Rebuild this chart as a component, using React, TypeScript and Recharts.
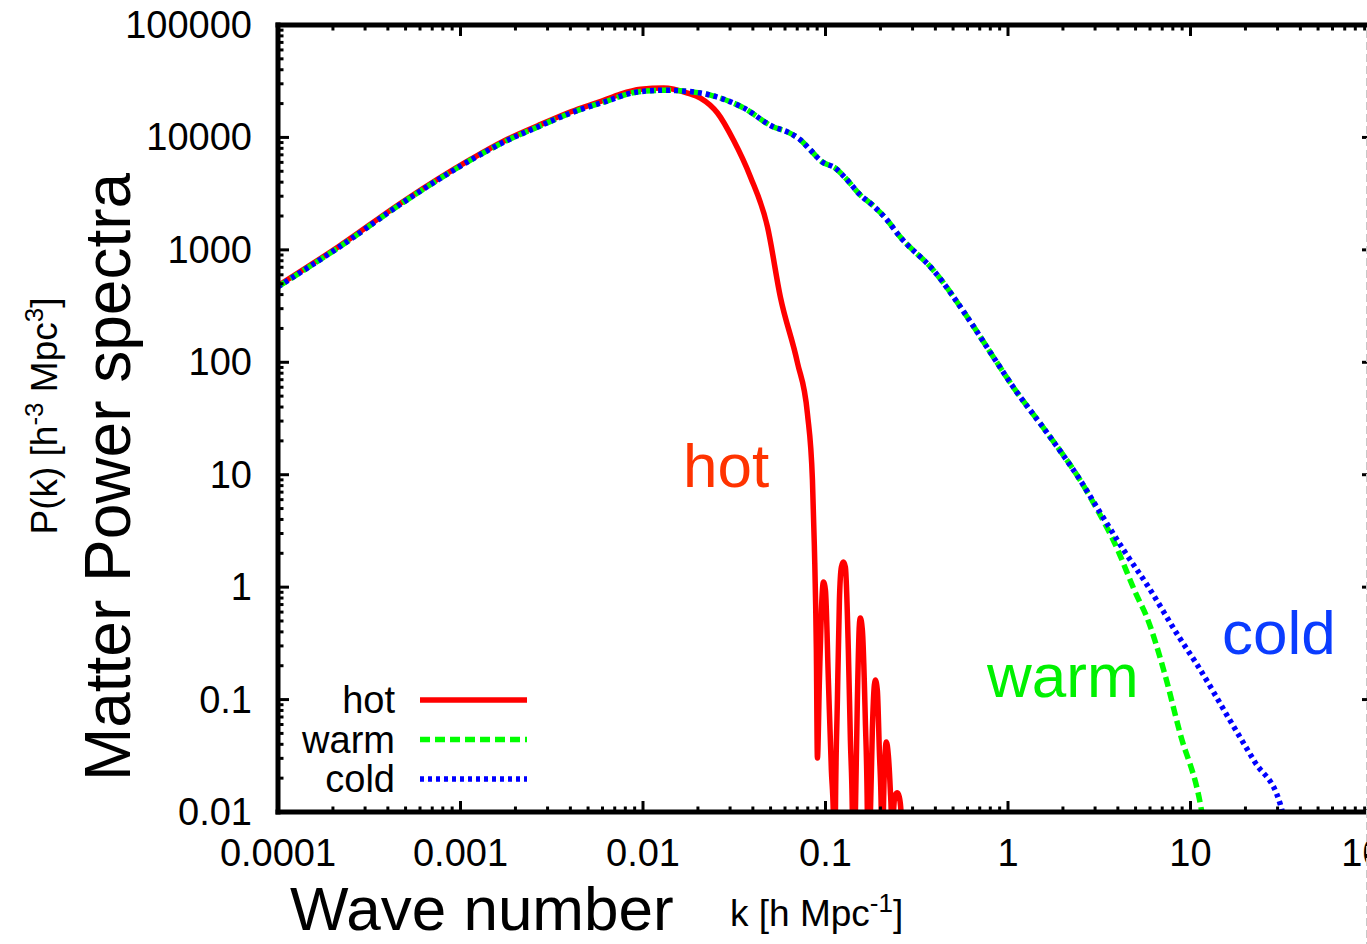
import { LineChart, Line, XAxis, YAxis } from 'recharts';

const FONT = '"Liberation Sans", Arial, Helvetica, sans-serif';

// k [h Mpc^-1] and P(k) [h^-3 Mpc^3]
const hotK = [
  0.0001, 0.000213, 0.00049, 0.00114, 0.00173, 0.00265, 0.00402, 0.00609, 0.00753, 0.0097,
  0.01297, 0.01755, 0.02065, 0.0256, 0.0313, 0.0388, 0.0481, 0.0566, 0.0702, 0.0796,
  0.0848, 0.0869, 0.0891, 0.0903,
  0.0926, 0.095, 0.0974, 0.0999, 0.1037, 0.1077, 0.1105, 0.1119,
  0.1133, 0.1162, 0.1192, 0.1222, 0.1253, 0.1285, 0.1334, 0.1369, 0.1404, 0.1421,
  0.1457, 0.1495, 0.1533, 0.1552, 0.1592, 0.1653, 0.1696, 0.1717,
  0.1761, 0.1806, 0.1852, 0.1875, 0.1923, 0.1972, 0.2023, 0.2048,
  0.2074, 0.2127, 0.2154, 0.2209, 0.2265, 0.2294, 0.2323,
  0.2352, 0.2413, 0.2474, 0.2537, 0.2602, 0.2669,
];
const hotP = [
  480, 1060, 2720, 6400, 9300, 12700, 16900, 21400, 24300, 26800,
  27500, 24800, 22400, 16500, 9480, 4450, 1600, 380, 99, 35,
  9, 2.3, 0.276, 0.0302,
  0.149, 0.626, 1.11, 0.943, 0.149, 0.0236, 0.0092, 0.0005,
  0.0092, 0.099, 0.769, 1.51, 1.67, 1.51, 0.276, 0.0437, 0.0092, 0.0005,
  0.0092, 0.099, 0.461, 0.532, 0.416, 0.0658, 0.0092, 0.0005,
  0.0092, 0.0536, 0.135, 0.149, 0.1217, 0.0356, 0.0092, 0.0005,
  0.0092, 0.0356, 0.042, 0.0321, 0.0157, 0.0092, 0.0005,
  0.0092, 0.0142, 0.0148, 0.0136, 0.0092, 0.0005,
];

const warmK = [
  0.0001, 0.000213, 0.00049, 0.00114, 0.00173, 0.00265, 0.00402, 0.00609, 0.00933, 0.0133,
  0.016, 0.0234, 0.0356, 0.0519, 0.0618, 0.0729, 0.0827, 0.0961, 0.113, 0.1285,
  0.155, 0.181, 0.213, 0.257, 0.39, 0.598, 0.799, 1.07, 1.64, 2.48,
  3.2, 3.77, 5.08, 5.75, 7.25, 8.77, 11.3, 12.0,
];
const warmP = [
  470, 1040, 2670, 6300, 9100, 12400, 16500, 20600, 25400, 26300,
  26000, 23800, 18300, 12400, 11200, 9500, 7730, 6040, 5350, 4360,
  3080, 2500, 1920, 1300, 660, 253, 123, 60, 23.5, 9.0,
  4.38, 2.63, 0.84, 0.546, 0.166, 0.05, 0.012, 0.0069,
];

const coldK = [
  0.0001, 0.000213, 0.00049, 0.00114, 0.00173, 0.00265, 0.00402, 0.00609, 0.00933, 0.0133,
  0.016, 0.0234, 0.0356, 0.0519, 0.0618, 0.0729, 0.0827, 0.0961, 0.113, 0.1285,
  0.155, 0.181, 0.213, 0.257, 0.39, 0.598, 0.799, 1.07, 1.64, 2.48,
  3.2, 4.3, 5.8, 8.65, 10.9, 16.4, 22.5, 30.9, 34,
];
const coldP = [
  470, 1040, 2670, 6300, 9100, 12400, 16500, 20600, 25400, 26300,
  26000, 23800, 18300, 12400, 11200, 9500, 7730, 6040, 5350, 4360,
  3080, 2500, 1920, 1300, 660, 253, 123, 60, 23.5, 9.0,
  4.6, 2.14, 1.04, 0.36, 0.203, 0.066, 0.0279, 0.012, 0.0065,
];

const K_MAJOR = [0.0001, 0.001, 0.01, 0.1, 1, 10, 100];
const K_LABELS = ['0.0001', '0.001', '0.01', '0.1', '1', '10', '100'];
const P_MAJOR = [0.01, 0.1, 1, 10, 100, 1000, 10000, 100000];
const P_LABELS = ['0.01', '0.1', '1', '10', '100', '1000', '10000', '100000'];
const MINOR_STEPS = [2, 3, 4, 5, 6, 7, 8, 9];

const SERIES = [
  { name: 'hot', color: '#ff0000', dash: undefined as string | undefined, k: hotK, p: hotP },
  { name: 'warm', color: '#00ff00', dash: '10 5', k: warmK, p: warmP },
  { name: 'cold', color: '#0000ff', dash: '4 4', k: coldK, p: coldP },
];

const withMinors = (majors: number[]) =>
  majors.flatMap((m, i) => (i < majors.length - 1 ? [m, ...MINOR_STEPS.map((s) => m * s)] : [m]));

const K_TICKS = withMinors(K_MAJOR);
const P_TICKS = withMinors(P_MAJOR);

const majorIndex = (majors: number[], v: number) =>
  majors.findIndex((m) => Math.abs(Math.log10(m) - Math.log10(v)) < 1e-6);

type Side = 'bottom' | 'top' | 'left' | 'right';

function renderTick(props: any, side: Side) {
  const { x, y, payload } = props;
  const horizontal = side === 'bottom' || side === 'top';
  const majors = horizontal ? K_MAJOR : P_MAJOR;
  const labels = horizontal ? K_LABELS : P_LABELS;
  const idx = majorIndex(majors, payload.value);
  const len = idx >= 0 ? 11 : 5.5;
  let x2 = x;
  let y2 = y;
  if (side === 'bottom') y2 = y - len;
  if (side === 'top') y2 = y + len;
  if (side === 'left') x2 = x + len;
  if (side === 'right') x2 = x - len;
  return (
    <g>
      <line x1={x} y1={y} x2={x2} y2={y2} stroke="#000" strokeWidth={3} />
      {idx >= 0 && side === 'bottom' && (
        <text x={x} y={y + 54} textAnchor="middle" fontSize={38} fontFamily={FONT} fill="#000">
          {labels[idx]}
        </text>
      )}
      {idx >= 0 && side === 'left' && (
        <text x={x - 26} y={y + 13} textAnchor="end" fontSize={38} fontFamily={FONT} fill="#000">
          {labels[idx]}
        </text>
      )}
    </g>
  );
}

const AXIS_LINE = { stroke: '#000', strokeWidth: 5, strokeLinecap: 'square' as const };

export default function App() {
  return (
    <div
      style={{
        position: 'fixed',
        left: 0,
        top: 0,
        width: 1367,
        height: 944,
        overflow: 'hidden',
        background: '#fff',
      }}
    >
      <LineChart width={1433} height={944} margin={{ top: 15, right: 0, bottom: 102, left: 218 }}>
        <XAxis
          dataKey="k"
          type="number"
          scale="log"
          domain={[0.0001, 100]}
          allowDataOverflow
          ticks={K_TICKS}
          interval={0}
          tickSize={0}
          tickMargin={0}
          tickLine={false}
          axisLine={AXIS_LINE}
          height={30}
          tick={(p: any) => renderTick(p, 'bottom')}
        />
        <XAxis
          xAxisId="top"
          orientation="top"
          dataKey="k"
          type="number"
          scale="log"
          domain={[0.0001, 100]}
          allowDataOverflow
          ticks={K_TICKS}
          interval={0}
          tickSize={0}
          tickMargin={0}
          tickLine={false}
          axisLine={AXIS_LINE}
          height={10}
          tick={(p: any) => renderTick(p, 'top')}
        />
        <YAxis
          type="number"
          scale="log"
          domain={[0.01, 100000]}
          allowDataOverflow
          ticks={P_TICKS}
          interval={0}
          tickSize={0}
          tickMargin={0}
          tickLine={false}
          axisLine={AXIS_LINE}
          width={60}
          tick={(p: any) => renderTick(p, 'left')}
        />
        <YAxis
          yAxisId="right"
          orientation="right"
          type="number"
          scale="log"
          domain={[0.01, 100000]}
          allowDataOverflow
          ticks={P_TICKS}
          interval={0}
          tickSize={0}
          tickMargin={0}
          tickLine={false}
          axisLine={AXIS_LINE}
          width={60}
          tick={(p: any) => renderTick(p, 'right')}
        />
        {SERIES.map((s) => (
          <Line
            key={s.name}
            name={s.name}
            data={s.k.map((k, i) => ({ k, p: s.p[i] }))}
            dataKey="p"
            type="monotone"
            stroke={s.color}
            strokeWidth={5.5}
            strokeDasharray={s.dash}
            dot={false}
            activeDot={false}
            isAnimationActive={false}
          />
        ))}
      </LineChart>

      <svg
        width={1367}
        height={944}
        style={{ position: 'absolute', left: 0, top: 0, pointerEvents: 'none' }}
        fontFamily={FONT}
      >
        {/* axis titles */}
        <text transform="translate(130,477) rotate(-90)" textAnchor="middle" fontSize={64}>
          Matter Power spectra
        </text>
        <text transform="translate(57,416) rotate(-90)" textAnchor="middle" fontSize={37}>
          P(k) [h
          <tspan dy={-14} fontSize={26}>-3</tspan>
          <tspan dy={14}> Mpc</tspan>
          <tspan dy={-14} fontSize={26}>3</tspan>
          <tspan dy={14}>]</tspan>
        </text>
        <text x={290} y={930} fontSize={62}>
          Wave number
        </text>
        <text x={730} y={926} fontSize={37}>
          k [h Mpc
          <tspan dy={-14} fontSize={26}>-1</tspan>
          <tspan dy={14}>]</tspan>
        </text>

        {/* curve labels */}
        <text x={683} y={487} fontSize={62} fill="#ff3300">
          hot
        </text>
        <text x={987} y={697} fontSize={62} fill="#00f000">
          warm
        </text>
        <text x={1222} y={654} fontSize={62} fill="#0a3cff">
          cold
        </text>

        {/* key */}
        {SERIES.map((s, i) => {
          const y = 700 + i * 39.5;
          return (
            <g key={s.name}>
              <text x={395} y={y + 13} textAnchor="end" fontSize={38}>
                {s.name}
              </text>
              <line x1={420} y1={y} x2={527} y2={y} stroke={s.color} strokeWidth={5.5} strokeDasharray={s.dash} />
            </g>
          );
        })}

        <line x1={1366.5} y1={30} x2={1366.5} y2={944} stroke="#c8c8c8" strokeWidth={1} strokeDasharray="8 4" />
      </svg>
    </div>
  );
}
